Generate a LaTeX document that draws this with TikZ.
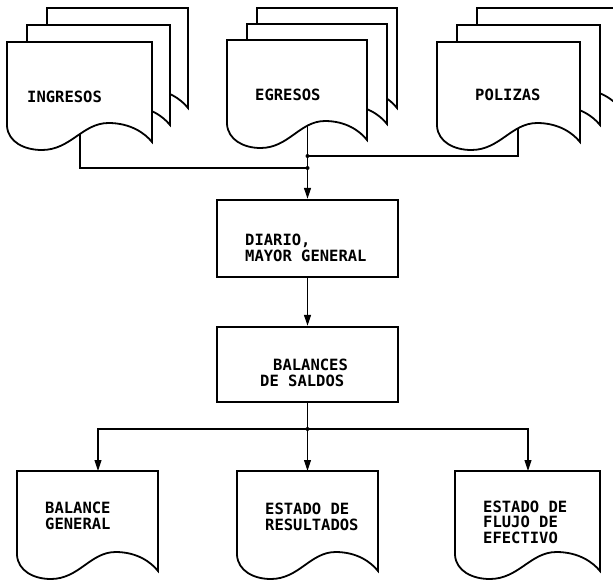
\documentclass[tikz,border=0pt]{standalone}
\usepackage{fontspec}
\newfontfamily\tfont{DejaVu Sans Mono}
\usetikzlibrary{arrows.meta}
\newcommand{\mydoc}[4]{%
 \draw[#1] ({#2},{#3}) -- ({#2},{#3+84})
  .. controls ({#2+1},{#3+100}) and ({#2+0.12*#4},{#3+108}) .. ({#2+0.24*#4},{#3+108})
  .. controls ({#2+0.44*#4},{#3+108}) and ({#2+0.52*#4},{#3+81}) .. ({#2+0.70*#4},{#3+81})
  .. controls ({#2+0.85*#4},{#3+81}) and ({#2+0.95*#4},{#3+91}) .. ({#2+#4},{#3+100})
  -- ({#2+#4},{#3}) -- cycle;}
\tikzset{
  docline/.style={line width=1.8pt, fill=white, line join=miter},
  boxstyle/.style={draw, line width=2.4pt, minimum width=181pt, inner sep=0pt},
  conn/.style={line width=1.1pt},
  arr/.style={-{Triangle[length=11pt,width=7pt]}},
  lbl/.style={inner sep=0pt, anchor=west, align=left, font=\tfont\bfseries\fontsize{15.5}{15.5}\selectfont},
  dot/.style={circle, fill=black, inner sep=0pt, minimum size=4pt}
}
\begin{document}
\begin{tikzpicture}[x=1pt,y=-1pt]
\useasboundingbox (0,0) rectangle (613,579);
\clip (0,0) rectangle (613,579);
% connector coordinates
\coordinate (ingA) at (80,120);
\coordinate (egrA) at (307.5,120);
\coordinate (polA) at (518,120);
\coordinate (j1) at (307.5,156);
\coordinate (j2) at (307.5,168);
\coordinate (j3) at (307.5,429);
\coordinate (balT) at (98,471);
\coordinate (resT) at (307.5,471);
\coordinate (fluT) at (528,471);
% boxes
\node[boxstyle, minimum height=77pt] (diario) at (307.5,238.5) {};
\node[boxstyle, minimum height=75pt] (saldos) at (307.5,364.5) {};
% top connectors
\draw[conn] (ingA) |- (j2);
\draw[conn] (polA) |- (j1);
\draw[conn, arr] (egrA) -- (diario.north);
\node[dot] (d1) at (j1) {};
\node[dot] (d2) at (j2) {};
\draw[conn, arr] (diario.south) -- (saldos.north);
% bottom connectors
\draw[conn] (saldos.south) -- (j3);
\node[dot] (d3) at (j3) {};
\draw[conn, arr] (j3) -| (balT);
\draw[conn, arr] (j3) -- (resT);
\draw[conn, arr] (j3) -| (fluT);
% top documents (stacked)
\mydoc{docline}{47}{8}{141}
\mydoc{docline}{27}{25}{143}
\mydoc{docline}{7}{42}{145}
\mydoc{docline}{257}{8}{140}
\mydoc{docline}{247}{24}{140}
\mydoc{docline}{227}{40}{140}
\mydoc{docline}{477}{8}{143}
\mydoc{docline}{457}{25}{143}
\mydoc{docline}{437}{42}{143}
% bottom documents
\mydoc{docline}{17}{471}{141}
\mydoc{docline}{237}{471}{141}
\mydoc{docline}{455}{471}{145}
% labels
\node[lbl] (ingT) at (27,97) {INGRESOS};
\node[lbl] (egrT) at (255,95) {EGRESOS};
\node[lbl] (polT) at (475,95) {POLIZAS};
\node[lbl] (diaT) at (245,248) {DIARIO,\\MAYOR GENERAL};
\node[lbl] (salT) at (260,373) {\hspace{13pt}BALANCES\\DE SALDOS};
\node[lbl] (balL) at (45,516) {BALANCE\\GENERAL};
\node[lbl] (resL) at (265,517) {ESTADO DE\\RESULTADOS};
\node[lbl] (fluL) at (483,522) {ESTADO DE\\FLUJO DE\\EFECTIVO};
\end{tikzpicture}
\end{document}
